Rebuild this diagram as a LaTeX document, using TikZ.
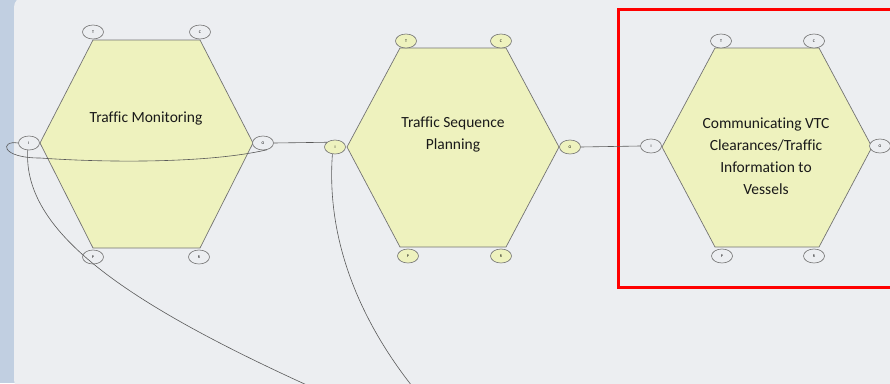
\documentclass[tikz,border=0pt]{standalone}
\usepackage{fontspec}
\setmainfont{Carlito}[Ligatures=NoCommon]
\usepackage{tikz}
\usetikzlibrary{shapes.geometric}

\definecolor{bggray}{RGB}{236,238,241}
\definecolor{stripblue}{RGB}{193,207,225}
\definecolor{hexfill}{RGB}{238,242,190}
\definecolor{edgegray}{RGB}{115,115,115}

\begin{document}
\begin{tikzpicture}[x=1pt, y=1pt,
    hexa/.style={draw=edgegray, line width=0.7pt, fill=hexfill},
    port/.style={ellipse, draw=edgegray, line width=0.6pt, fill=bggray,
      minimum width=21pt, minimum height=14pt, inner sep=0pt,
      font=\fontsize{4}{4}\selectfont},
    yport/.style={port, fill=hexfill},
    boxtext/.style={align=center, text=black!90, font=\fontsize{15.5}{22}\selectfont},
    wire/.style={draw=black!65, line width=0.6pt}]

  \useasboundingbox (0,0) rectangle (890,-383);
  \fill[stripblue] (0,0) rectangle (890,-383);
  \fill[bggray, rounded corners=10pt] (14,3) rectangle (900,-390);

    % Traffic Monitoring
    \draw[hexa] (93,-40) -- (200,-40) -- (253,-143) -- (200,-248) -- (93,-248) -- (40,-143) -- cycle;
    \node[boxtext] (tm) at (146,-118) {Traffic Monitoring};
    \node[port] (T1) at (93,-32) {T};
    \node[port] (C1) at (200,-32) {C};
    \node[port] (I1) at (29,-143) {I};
    \node[port] (O1) at (263,-143) {O};
    \node[port] (P1) at (93,-257) {P};
    \node[port] (R1) at (199,-257) {R};

    % Traffic Sequence Planning
    \draw[hexa] (400,-48) -- (506,-48) -- (559,-147) -- (506,-247) -- (400,-247) -- (347,-147) -- cycle;
    \node[boxtext] (tsp) at (453,-134) {Traffic Sequence\\Planning};
    \node[yport] (T2) at (406,-41) {T};
    \node[yport] (C2) at (501,-41) {C};
    \node[yport] (I2) at (335,-147) {I};
    \node[yport] (O2) at (570,-147) {O};
    \node[yport] (P2) at (408,-256) {P};
    \node[yport] (R2) at (501,-256) {R};

    % Communicating VTC Clearances
    \draw[hexa] (715,-48) -- (819,-48) -- (872,-147) -- (819,-247) -- (715,-247) -- (662,-147) -- cycle;
    \node[boxtext] (cvtc) at (766,-156) {Communicating VTC\\Clearances/Traffic\\Information to\\Vessels};
    \node[port] (T3) at (721,-41) {T};
    \node[port] (C3) at (814,-41) {C};
    \node[port] (I3) at (651,-146) {I};
    \node[port] (O3) at (880,-146) {O};
    \node[port] (P3) at (722,-256) {P};
    \node[port] (R3) at (814,-256) {R};

    % highlight
    \draw[red, line width=3pt] (618,-9) rectangle (896,-287);

    % links
    \coordinate (endA) at (309,-386);
    \coordinate (endB) at (412,-386);
    \draw[wire] (O1.east) -- (I2.150);
    \draw[wire] (O2.east) -- (I3.west);
    \draw[wire] (I1.west) .. controls (0,-140) and (0,-158) .. (40,-158)
      .. controls (110,-163) and (210,-163) .. (O1.-60);
    \draw[wire] (I1.-100) .. controls (23,-230) and (120,-300) .. (endA);
    \draw[wire] (I2.-110) .. controls (326,-240) and (360,-320) .. (endB);

\end{tikzpicture}
\end{document}
